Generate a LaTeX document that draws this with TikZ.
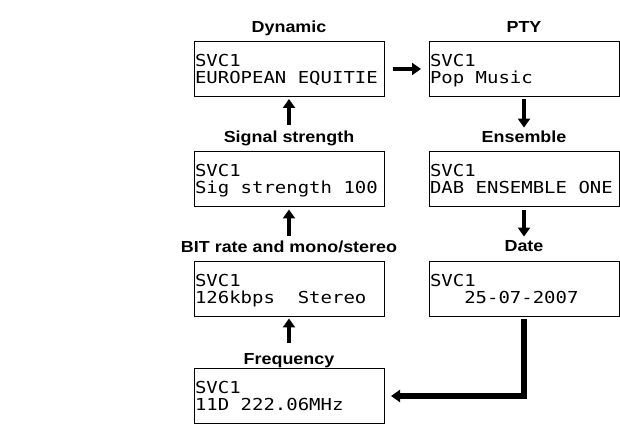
\documentclass[tikz,border=0pt]{standalone}
\usepackage{fontspec}
\setmainfont{Liberation Sans}
\newfontfamily\lcdfont[FakeStretch=1.15]{DejaVu Sans Mono}
\newfontfamily\labelfont[FakeStretch=1.12]{Liberation Sans}
\newcommand\lcdtext{\lcdfont\fontsize{16.5}{17.5}\selectfont}
\newcommand\lcdspacing{\spaceskip=\fontcharwd\font`0\relax
    \xspaceskip=\spaceskip \hyphenpenalty=10000 \exhyphenpenalty=10000 }
\newcommand\lcdgap{\hspace*{\fontcharwd\font`0}}
\usetikzlibrary{positioning,arrows.meta}

\begin{document}
\begin{tikzpicture}[x=1pt, y=1pt,
    screen/.style={draw, line width=1pt, outer sep=0pt,
        minimum width=190pt, minimum height=55pt,
        text width=188pt, align=left, inner xsep=1pt,
        text height=12pt, text depth=17.5pt, font=\lcdtext,
        execute at begin node=\lcdspacing},
    caption/.style={font=\labelfont\bfseries\fontsize{16}{18}\selectfont,
        inner sep=0pt, text height=12pt, text depth=4pt},
    flow/.style={line width=4.5pt, -{Triangle[width=12pt,length=9pt]}}]

\useasboundingbox (0,0) rectangle (620,425);

% --- Left column (bottom to top)
\node[screen] (dyn) at (289,356) {SVC1\\EUROPEAN EQUITIE};
\node[screen, below=55pt of dyn] (sig) {SVC1\\Sig strength 100};
\node[screen, below=55pt of sig] (bit) {SVC1\\126kbps\lcdgap\lcdgap Stereo};
\node[screen, below=52pt of bit] (freq) {SVC1\\11D 222.06MHz};

% --- Right column (top to bottom)
\node[screen, right=45pt of dyn] (pty) {SVC1\\Pop Music};
\node[screen, below=55pt of pty] (ens) {SVC1\\DAB ENSEMBLE ONE};
\node[screen, below=55pt of ens] (date) {SVC1\\\lcdgap\lcdgap\lcdgap 25-07-2007};

% Labels above each screen
\node[caption, above=4.5pt of dyn] (dynLabel) {Dynamic};
\node[caption, above=4.5pt of sig] (sigLabel) {Signal strength};
\node[caption, above=5pt of bit] (bitLabel) {BIT rate and mono/stereo};
\node[caption, above=0pt of freq] (freqLabel) {Frequency};
\node[caption, above=4.5pt of pty] (ptyLabel) {PTY};
\node[caption, above=4.5pt of ens] (ensLabel) {Ensemble};
\node[caption, above=5.5pt of date] (dateLabel) {Date};

% Arrows up the left column
\draw[flow] ([yshift=9pt]freqLabel.north -| freq.north) -- ([yshift=-2pt]bit.south);
\draw[flow] ([yshift=4pt]bitLabel.north -| bit.north) -- ([yshift=-3pt]sig.south);
\draw[flow] ([yshift=6pt]sigLabel.north -| sig.north) -- ([yshift=-2.5pt]dyn.south);

% Across the top
\draw[flow, shorten <=9pt, shorten >=8pt] (dyn.east) -- (pty.west);

% Down the right column
\draw[flow, shorten <=3pt, shorten >=3pt] (pty.south) -- (ensLabel.north);
\draw[flow, shorten <=4pt, shorten >=3pt] (ens.south) -- (dateLabel.north);

% Back to the frequency screen
\draw[flow, line width=5.5pt, shorten <=3pt, shorten >=7pt] (date.south) |- (freq.east);

\end{tikzpicture}
\end{document}
